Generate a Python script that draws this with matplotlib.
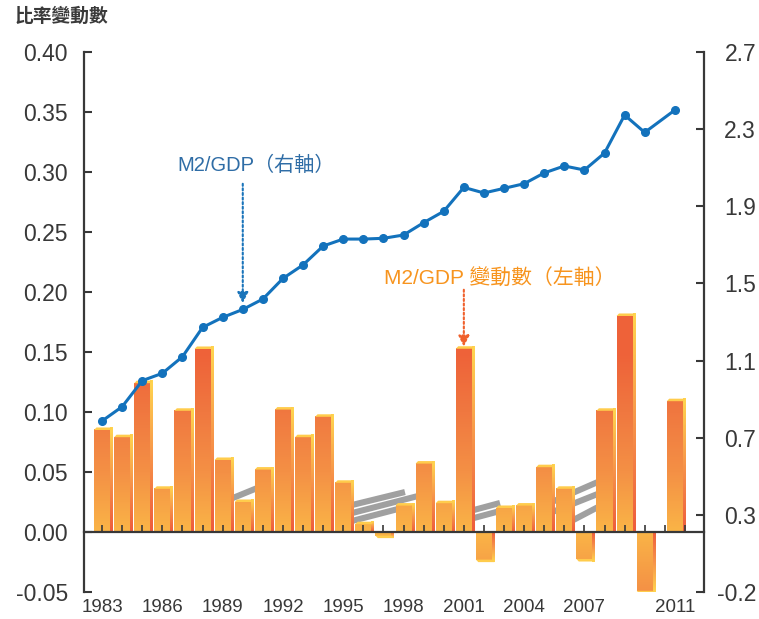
import numpy as np
import matplotlib
matplotlib.use("Agg")
import matplotlib.pyplot as plt
from matplotlib.colors import LinearSegmentedColormap
from matplotlib.patches import Polygon

# ---------------- data ----------------
years = list(range(1983, 2012))
change = [0.085, 0.079, 0.124, 0.036, 0.101, 0.1525, 0.060, 0.025, 0.052, 0.102,
          0.079, 0.096, 0.041, 0.0065, -0.003, 0.022, 0.057, 0.024, 0.1527, -0.023,
          0.020, 0.022, 0.054, 0.036, -0.0225, 0.101, 0.180, -0.049, 0.109]
m2gdp = [0.787, 0.861, 0.996, 1.034, 1.120, 1.272, 1.324, 1.365, 1.419, 1.526,
         1.596, 1.694, 1.730, 1.730, 1.734, 1.751, 1.815, 1.874, 1.998, 1.969,
         1.993, 2.017, 2.073, 2.109, 2.088, 2.176, 2.373, 2.283, 2.399]
year_labels = [1983, 1986, 1989, 1992, 1995, 1998, 2001, 2004, 2007, 2011]
left_ticks = [-0.05, 0.00, 0.05, 0.10, 0.15, 0.20, 0.25, 0.30, 0.35, 0.40]
right_tick_labels = ["-0.2", "0.3", "0.7", "1.1", "1.5", "1.9", "2.3", "2.7"]
title = "比率變動數"
label_m2 = "M2/GDP（右軸）"
label_chg = "M2/GDP 變動數（左軸）"
# decorative grey stripes in the background (x slot, value) pairs
stripes = [((6.27, 0.0267), (7.96, 0.0383)),
           ((12.44, 0.0225), (15.07, 0.0333)),
           ((12.44, 0.0158), (15.72, 0.0300)),
           ((12.44, 0.0092), (14.73, 0.0192)),
           ((18.31, 0.0175), (19.80, 0.0242)),
           ((18.31, 0.0108), (19.80, 0.0175)),
           ((22.04, 0.0225), (24.78, 0.0425)),
           ((22.04, 0.0142), (24.78, 0.0325)),
           ((22.79, 0.0042), (24.78, 0.0217))]

# x slots: one per year, the last year sits half a slot further right
x = np.array(years, dtype=float) - years[0]
x[-1] += 0.5

CJK = ["Liberation Sans", "Noto Sans CJK TC", "DejaVu Sans"]
NUM = ["Liberation Sans", "DejaVu Sans"]
YEARF = ["Liberation Sans Narrow", "Liberation Sans", "DejaVu Sans"]
DARK = "#383838"

fig = plt.figure(figsize=(7.59, 6.19), dpi=100)
ax = fig.add_axes([84 / 759, 27 / 619, 620 / 759, 540 / 619])

body_cmap = LinearSegmentedColormap.from_list(
    "body", ["#FAB447", "#F49045", "#F07840", "#EE6239"])
side_cmap = LinearSegmentedColormap.from_list(
    "side", ["#EE5C3C", "#F7944A", "#FFD54F"])

w = 0.8
dx = 0.12
dy = 0.0021
for xi, v in zip(x, change):
    x0, x1 = xi - w / 2, xi + w / 2
    grad = np.linspace(0, abs(v), 60).reshape(-1, 1)
    ax.imshow(grad, extent=(x0, x1, 0, v), origin="lower", cmap=body_cmap,
              vmin=0, vmax=0.15, aspect="auto", interpolation="bilinear",
              zorder=2)
    sgrad = np.linspace(0, 1, 60).reshape(-1, 1)
    sdy = dy if v >= 0 else -dy
    ax.imshow(sgrad, extent=(x1, x1 + dx, 0, v + sdy), origin="lower",
              cmap=side_cmap, aspect="auto", interpolation="bilinear",
              zorder=2)
    ax.add_patch(Polygon([(x0, v), (x1, v), (x1 + dx, v + sdy),
                          (x0 + dx, v + sdy)], closed=True,
                         facecolor="#FFCC4C", edgecolor="none", zorder=2.1))

for (p0, p1) in stripes:
    ax.plot([p0[0], p1[0]], [p0[1], p1[1]], color="#A0A0A0", lw=4.4,
            solid_capstyle="butt", zorder=1)

ax.set_xlim(-0.9, 29.95)
ax.set_ylim(-0.05, 0.40)
ax.set_axisbelow(False)

ax.spines["top"].set_visible(False)
ax.spines["right"].set_visible(False)
ax.spines["bottom"].set_position(("data", 0))
for s in ("left", "bottom"):
    ax.spines[s].set_linewidth(1.6)
    ax.spines[s].set_color(DARK)
    ax.spines[s].set_zorder(3)

ax.set_yticks(left_ticks)
ax.set_yticklabels([f"{t:.2f}" for t in left_ticks], family=NUM,
                   fontsize=16.5, color=DARK)
ax.tick_params(axis="y", direction="in", length=6, width=1.5, pad=11.5,
               color=DARK)
ax.set_xticks(np.arange(30))
ax.set_xticklabels([])
ax.tick_params(axis="x", direction="in", length=5, width=1.2, color=DARK)

xt = ax.get_xaxis_transform()
for yl in year_labels:
    ax.text(x[years.index(yl)], -15 / 540, str(yl), transform=xt,
            ha="center", va="center", fontsize=13.5, color=DARK, family=YEARF)

# right axis
ax2 = ax.twinx()
ax2.set_ylim(-0.1, 2.7)
ax2.set_yticks(np.linspace(-0.1, 2.7, len(right_tick_labels)))
ax2.set_yticklabels(right_tick_labels, family=NUM, fontsize=16.5, color=DARK)
ax2.tick_params(axis="y", direction="in", length=6, width=1.5, pad=37.5,
                color=DARK)
for lab in ax2.get_yticklabels():
    lab.set_horizontalalignment("right")
for s in ("top", "left", "bottom"):
    ax2.spines[s].set_visible(False)
ax2.spines["right"].set_linewidth(1.6)
ax2.spines["right"].set_color(DARK)

ax2.plot(x, m2gdp, color="#1372BC", lw=2.2, marker="o", ms=5.5, zorder=5)

# annotations
i90 = years.index(1990)
ax2.annotate("", xy=(x[i90], m2gdp[i90]), xytext=(0, 90.5),
             textcoords="offset points",
             arrowprops=dict(arrowstyle="-|>", color="#1A74BA", lw=1.5,
                             linestyle=(0, (1, 1.2)), mutation_scale=16,
                             shrinkA=0, shrinkB=4.5))
ax2.annotate(label_m2, xy=(x[i90], m2gdp[i90]), xytext=(-47, 103.5),
             textcoords="offset points", ha="left", va="center",
             fontsize=14.5, color="#2F6DA6", family=CJK)

i01 = years.index(2001)
ax.annotate("", xy=(x[i01], change[i01]), xytext=(0, 42.5),
            textcoords="offset points",
            arrowprops=dict(arrowstyle="-|>", color="#F0602C", lw=1.5,
                            linestyle=(0, (1, 1.2)), mutation_scale=16,
                            shrinkA=0, shrinkB=1.5), zorder=6)
ax.annotate(label_chg, xy=(x[i01], change[i01]), xytext=(-57.6, 51),
            textcoords="offset points", ha="left", va="center",
            fontsize=15, color="#F7941E", family=CJK)

fig.text(15 / 759, 1 - 16 / 619, title, fontsize=13.5, weight="bold",
         color="#3A3A3A", ha="left", va="center",
         family=["Noto Sans CJK TC", "DejaVu Sans"])

fig.savefig("out.png", dpi=100)
